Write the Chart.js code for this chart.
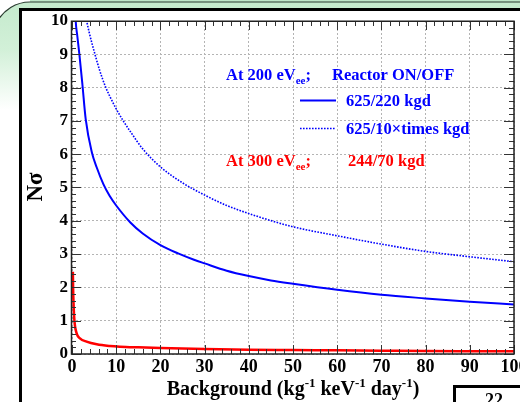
<!DOCTYPE html>
<html><head><meta charset="utf-8">
<script src="https://cdn.jsdelivr.net/npm/chart.js@4"></script>
<style>html,body{margin:0;padding:0;background:#fff;overflow:hidden}canvas{display:block}</style>
</head><body>
<canvas id="c" width="520" height="402"></canvas>
<script>
// ---- data ----
const bgSolid = [0.7, 0.84, 1.2, 1.67, 2.35, 3.1, 4.5, 5.6, 7.1, 8.5, 10, 13.2, 16, 20, 24, 27.6, 30, 35, 40, 45, 50, 60, 70, 80, 90, 100];
const nSolid  = [10.5, 10, 9.55, 9, 8.1, 7.05, 6.05, 5.6, 5.1, 4.75, 4.46, 3.95, 3.62, 3.27, 3.02, 2.83, 2.72, 2.5, 2.34, 2.21, 2.11, 1.93, 1.78, 1.67, 1.57, 1.49];
const bgDotted = [3.0, 3.2, 4, 5.2, 6.3, 7.65, 9, 10, 11.6, 13.2, 16, 20, 25, 30.2, 35, 42.7, 50, 60, 70, 80, 90, 100];
const nDotted  = [10.3, 10.1, 9.6, 9, 8.5, 8, 7.62, 7.36, 7.0, 6.68, 6.16, 5.62, 5.14, 4.76, 4.46, 4.1, 3.82, 3.55, 3.3, 3.08, 2.92, 2.77];
const bgRed = [0.2, 0.25, 0.35, 0.55, 1.05, 1.8, 3.3, 5.6, 8.6, 10.9, 15, 20, 30, 40, 50, 60, 70, 80, 90, 100];
const nRed  = [2.47, 2.0, 1.52, 1.0, 0.62, 0.47, 0.37, 0.29, 0.24, 0.22, 0.2, 0.18, 0.15, 0.13, 0.12, 0.11, 0.10, 0.09, 0.085, 0.08];
const seriesLabels = ['625/220 kgd', '625/10\u00d7times kgd', '244/70 kgd'];
const xRange = [0, 100], yRange = [0, 10];
const xStep = 10, yStep = 1, xMinor = 2, yMinor = 0.2;

const pts = (xs, ys) => xs.map((x, i) => ({x: x, y: ys[i]}));
const SERIF = '"Liberation Serif", "DejaVu Serif", serif';
const BLUE = '#0000ff', RED = '#ff0000';

function richText(ctx, x, y, parts, size) {
  let cx = x;
  for (const [t, k] of parts) {
    const fs = k === 'n' ? size : Math.round(size * 0.65);
    ctx.font = 'bold ' + fs + 'px ' + SERIF;
    const dy = k === 'sup' ? -size * 0.4 : (k === 'sub' ? size * 0.25 : 0);
    ctx.fillText(t, cx, y + dy);
    cx += ctx.measureText(t).width;
  }
  return cx - x;
}
function richWidth(ctx, parts, size) {
  let w = 0;
  for (const [t, k] of parts) {
    const fs = k === 'n' ? size : Math.round(size * 0.65);
    ctx.font = 'bold ' + fs + 'px ' + SERIF;
    w += ctx.measureText(t).width;
  }
  return w;
}

const deco = {
  id: 'deco',
  beforeDraw(chart) {
    const ctx = chart.ctx;
    ctx.save();
    ctx.fillStyle = '#fff';
    ctx.fillRect(0, 0, 520, 402);
    ctx.fillStyle = '#bfe6c8';
    ctx.fillRect(30, 0, 490, 3);
    const g = ctx.createLinearGradient(0, 0, 0, 110);
    g.addColorStop(0, '#c4eacc');
    g.addColorStop(0.45, '#d2f0d8');
    g.addColorStop(1, '#ffffff');
    ctx.beginPath();
    ctx.moveTo(-5, 402);
    ctx.lineTo(-5, 30);
    ctx.arc(30, 39, 37, Math.PI * 1.18, Math.PI * 1.5);
    ctx.lineTo(525, 2);
    ctx.lineTo(525, 402);
    ctx.closePath();
    ctx.fillStyle = g;
    ctx.fill();
    ctx.strokeStyle = '#2b3b30';
    ctx.lineWidth = 1.2;
    ctx.beginPath();
    ctx.arc(30, 39, 37, Math.PI * 1.15, Math.PI * 1.5);
    ctx.lineTo(525, 2);
    ctx.stroke();
    ctx.fillStyle = '#fff';
    ctx.fillRect(22, 11, 510, 400);
    ctx.fillStyle = '#000';
    ctx.fillRect(19, 8, 510, 3);
    ctx.fillRect(19, 8, 3, 400);
    ctx.restore();
  },
  afterDraw(chart) {
    const ctx = chart.ctx, a = chart.chartArea;
    const xs = chart.scales.x, ys = chart.scales.y;
    ctx.save();
    ctx.strokeStyle = '#333';
    ctx.lineWidth = 1;
    ctx.beginPath();
    for (let v = yRange[0]; v <= yRange[1] + 1e-9; v += yMinor) {
      const major = Math.abs(v / yStep - Math.round(v / yStep)) < 1e-6;
      const L = major ? 10 : 5;
      const py = Math.round(ys.getPixelForValue(v)) + 0.5;
      ctx.moveTo(a.left - 0.5, py); ctx.lineTo(a.left + L - 1, py);
      ctx.moveTo(a.right, py); ctx.lineTo(a.right - L, py);
    }
    for (let v = xRange[0]; v <= xRange[1] + 1e-9; v += xMinor) {
      const major = Math.abs(v / xStep - Math.round(v / xStep)) < 1e-6;
      const L = major ? 9 : 5;
      const px = Math.round(xs.getPixelForValue(v)) + 0.5;
      ctx.moveTo(px, a.bottom); ctx.lineTo(px, a.bottom - L);
      ctx.moveTo(px, a.top); ctx.lineTo(px, a.top + L);
    }
    ctx.stroke();
    ctx.strokeStyle = '#222';
    ctx.lineWidth = 1.5;
    const L0 = Math.round(a.left) - 0.5, T0 = Math.round(a.top) + 0.25;
    ctx.strokeRect(L0, T0, Math.round(a.right) - L0, Math.round(a.bottom) - T0);

    ctx.fillStyle = '#000';
    ctx.textBaseline = 'alphabetic';
    ctx.textAlign = 'left';
    const xt = [['Background (kg', 'n'], ['-1', 'sup'], [' keV', 'n'], ['-1', 'sup'], [' day', 'n'], ['-1', 'sup'], [')', 'n']];
    const w = richWidth(ctx, xt, 20);
    richText(ctx, (a.left + a.right) / 2 - w / 2, 395, xt, 20);
    ctx.save();
    ctx.translate(42, 187);
    ctx.rotate(-Math.PI / 2);
    ctx.font = 'bold 23px ' + SERIF;
    ctx.textAlign = 'center';
    ctx.fillText('N\u03c3', 0, 0);
    ctx.restore();

    const ds = chart.data.datasets;
    ctx.fillStyle = BLUE;
    richText(ctx, 226, 80, [['At 200 eV', 'n'], ['ee', 'sub'], [';', 'n']], 16.5);
    richText(ctx, 332, 80, [['Reactor ON/OFF', 'n']], 16.5);
    richText(ctx, 346, 106, [[ds[0].label, 'n']], 16.5);
    richText(ctx, 346, 134, [[ds[1].label, 'n']], 16.5);
    ctx.fillStyle = RED;
    richText(ctx, 226, 166, [['At 300 eV', 'n'], ['ee', 'sub'], [';', 'n']], 16.5);
    richText(ctx, 348, 166, [[ds[2].label, 'n']], 16.5);
    ctx.strokeStyle = ds[0].borderColor; ctx.lineWidth = ds[0].borderWidth; ctx.setLineDash([]);
    ctx.beginPath(); ctx.moveTo(300, 100.5); ctx.lineTo(336, 100.5); ctx.stroke();
    ctx.strokeStyle = ds[1].borderColor; ctx.lineWidth = ds[1].borderWidth; ctx.setLineDash(ds[1].borderDash);
    ctx.beginPath(); ctx.moveTo(300, 128.5); ctx.lineTo(336, 128.5); ctx.stroke();
    ctx.setLineDash([]);

    ctx.fillStyle = '#fff';
    ctx.fillRect(455, 387, 70, 20);
    ctx.strokeStyle = '#000';
    ctx.lineWidth = 3;
    ctx.strokeRect(454.5, 386.5, 80, 40);
    ctx.fillStyle = '#000';
    ctx.font = 'bold 18px ' + SERIF;
    ctx.fillText('22', 485, 406);
    ctx.restore();
  }
};

new Chart(document.getElementById('c'), {
  type: 'scatter',
  data: {
    datasets: [
      {label: seriesLabels[0], data: pts(bgSolid, nSolid), showLine: true, borderColor: BLUE, borderWidth: 2, pointRadius: 0, cubicInterpolationMode: 'monotone'},
      {label: seriesLabels[1], data: pts(bgDotted, nDotted), showLine: true, borderColor: BLUE, borderWidth: 1.6, borderDash: [1.6, 1.4], pointRadius: 0, cubicInterpolationMode: 'monotone'},
      {label: seriesLabels[2], data: pts(bgRed, nRed), showLine: true, borderColor: RED, borderWidth: 2.5, pointRadius: 0, cubicInterpolationMode: 'monotone'}
    ]
  },
  options: {
    responsive: false,
    animation: false,
    devicePixelRatio: 1,
    layout: {padding: {left: 0, right: 6, top: 21, bottom: 0}},
    plugins: {legend: {display: false}, tooltip: {enabled: false}},
    scales: {
      x: {
        type: 'linear', min: xRange[0], max: xRange[1],
        ticks: {stepSize: xStep, color: '#000', padding: 3, font: {family: SERIF, size: 18, weight: 'bold'}, maxRotation: 0},
        grid: {color: '#b4b4b4', lineWidth: 1, drawTicks: false},
        border: {display: false, dash: [2, 2]},
        afterFit(s) { s.height = 48; s.paddingLeft = 0; s.paddingRight = 0; }
      },
      y: {
        type: 'linear', min: yRange[0], max: yRange[1],
        ticks: {stepSize: yStep, color: '#000', padding: 4, font: {family: SERIF, size: 17, weight: 'bold'}},
        grid: {color: '#b4b4b4', lineWidth: 1, drawTicks: false},
        border: {display: false, dash: [2, 2]},
        afterFit(s) { s.width = 72; s.paddingTop = 0; s.paddingBottom = 0; }
      }
    }
  },
  plugins: [deco]
});
</script>
</body></html>
